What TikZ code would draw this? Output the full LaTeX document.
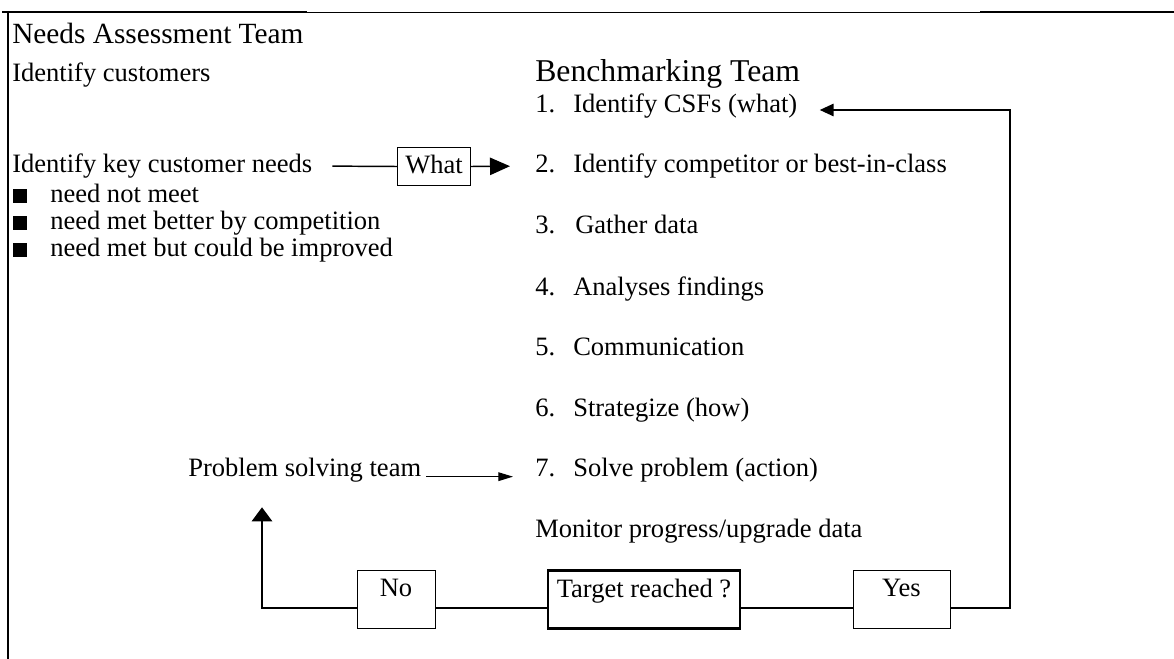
\documentclass[tikz,border=0pt]{standalone}
\usepackage{fontspec}
\setmainfont{Liberation Serif}
\usetikzlibrary{positioning, arrows.meta}
\tikzset{
	flow/.style={line width=2pt}, % the heavy lines of the feedback loop
	link/.style={line width=1.1pt}, % the lighter lines at the top
	item/.style={anchor=west, inner sep=0pt, font=\fontsize{19.9}{22}\selectfont, text height=14pt, text depth=4pt}, % every line of text
	team/.style={item, text height=16pt, text depth=4.5pt},
	answer/.style={draw, line width=0.75pt, inner xsep=2pt, inner ysep=0pt, font=\fontsize{19.9}{22}\selectfont, text height=20pt, text depth=23.5pt}, % the boxes of the loop
	whatbox/.style={draw, line width=0.75pt, inner xsep=6pt, inner ysep=5.5pt, font=\fontsize{19.9}{22}\selectfont, text height=14pt, text depth=4pt},
	bullet/.style={fill, inner sep=0pt, minimum size=10.5pt, anchor=south west},
}

\begin{document}
\begin{tikzpicture}[x=0.75pt, y=-0.75pt]
	\useasboundingbox (0,0) rectangle (1174,659);
	% the frame, cut off at the right and bottom
	\draw[line width=2.2pt] (2,12) -- (307,12);
	\draw[line width=1pt] (307,12.5) -- (980,12.5);
	\draw[line width=2.2pt] (980,12) -- (1174,12);
	\draw[line width=2.2pt] (8,11) -- (8,659);

	%% Needs assessment side
	\node[team, font=\fontsize{22}{24}\selectfont] (needs) at (12,36) {Needs Assessment Team};
	\node[item] (customers) at (12,74.5) {Identify customers};
	\node[item] (keyneeds) at (12,166) {Identify key customer needs};
	\node[bullet] (b1) at (13,203) {};
	\node[item] (notmeet) at (50,196) {need not meet};
	\node[bullet] (b2) at (13,230) {};
	\node[item] (better) at (50,223) {need met better by competition};
	\node[bullet] (b3) at (13,257) {};
	\node[item] (improve) at (50,250) {need met but could be improved};

	%% Benchmarking side
	\node[team, font=\fontsize{23.8}{26}\selectfont] (bench) at (535,74) {Benchmarking Team};
	\node[item] (n1) at (535,105.5) {1.};
	\node[item] (csf) at (573,105.5) {Identify CSFs (what)};
	\node[item] (n2) at (535,166) {2.};
	\node[item] (competitor) at (573,166) {Identify competitor or best-in-class};
	\node[item] (n3) at (535,227) {3.};
	\node[item] (gather) at (575,227) {Gather data};
	\node[item] (n4) at (535,288.5) {4.};
	\node[item] (analyse) at (573,288.5) {Analyses findings};
	\node[item] (n5) at (535,348.5) {5.};
	\node[item] (communicate) at (573,348.5) {Communication};
	\node[item] (n6) at (535,409.5) {6.};
	\node[item] (strategize) at (573,409.5) {Strategize (how)};
	\node[item] (n7) at (535,470) {7.};
	\node[item] (solve) at (573,470) {Solve problem (action)};
	\node[item] (monitor) at (535,531) {Monitor progress/upgrade data};

	\node[whatbox] (what) at (434,166.5) {What};
	\draw[link, shorten <=15pt] (keyneeds.east) -- (what.west);
	\draw[link, -{Triangle[length=15pt, width=13pt]}, shorten >=18.75pt] (what.east) -- (n2.west);

	\node[item] (psteam) at (188,470) {Problem solving team};
	\draw[line width=0.9pt, -{Triangle[length=11pt, width=6.5pt]}, shorten <=3.75pt, shorten >=16.5pt] ([yshift=-5pt]psteam.east) -- ([yshift=-5pt]n7.west);

	%% the loop at the bottom
	\node[answer, minimum width=58.5pt] (no) at (396,599) {No};
	\node[answer, line width=2pt, minimum width=144pt] (target) at (644,599.5) {Target reached ?};
	\node[answer, minimum width=72.75pt] (yes) at (901.5,599) {Yes};
	\coordinate (turnL) at (262,608);
	\coordinate (turnR) at (1010,608);
	\coordinate (turnTop) at (1010,110);

	\draw[flow, -{Triangle[length=10.5pt, width=15pt]}, shorten >=18.75pt] (no.west |- turnL) -- (turnL) -- (turnL |- psteam.south);
	\draw[flow] (no.east |- turnL) -- (target.west |- turnL);
	\draw[flow] (target.east |- turnL) -- (yes.west |- turnL);
	\draw[flow, -{Triangle[length=10.5pt, width=9pt]}, shorten >=16.5pt] (yes.east |- turnR) -- (turnR) -- (turnTop) -- (turnTop -| csf.east);
\end{tikzpicture}
\end{document}
